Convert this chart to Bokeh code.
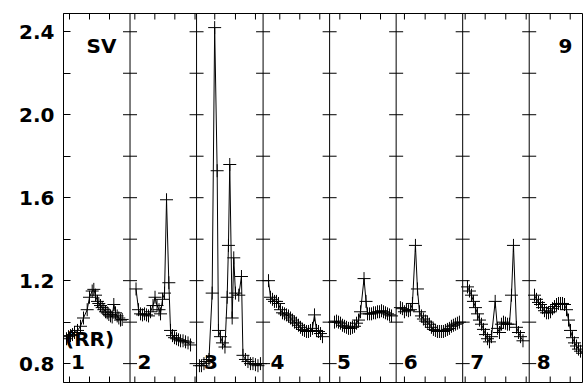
import math
from bokeh.plotting import figure
from bokeh.models import Range1d, FixedTicker, Span, Label, PrintfTickFormatter
from bokeh.embed import file_html
from bokeh.resources import INLINE

# ---------------- data ----------------
PANEL_W = 66.53          # width of one panel window (time units)
PANEL_LABELS = ["1", "2", "3", "4", "5", "6", "7", "8"]

P1_T = [3, 5, 7, 9, 11, 14, 17, 20, 23.7, 26, 28.7, 30.3, 32, 34, 35.3, 37, 38.7, 40.3, 42, 43.7,
        45.3, 47, 48.7, 50.3, 52, 53.7, 55.3, 57, 58.7]
P1_V = [0.92, 0.93, 0.935, 0.94, 0.95, 0.96, 0.98, 1.02, 1.06, 1.12, 1.15, 1.158, 1.13, 1.10, 1.09,
        1.08, 1.07, 1.06, 1.05, 1.045, 1.037, 1.03, 1.025, 1.085, 1.045, 1.03, 1.02, 1.01, 1.013]

P2_T = [6, 8.5, 10.5, 12.5, 14.5, 16.5, 18.5, 20.5, 23, 25, 27, 29, 30.5, 32.5, 34.5, 36.5, 38.8,
        40.5, 42.5, 44.5, 46.5, 48.5, 50.5, 53, 55.5, 58, 60.5]
P2_V = [1.16, 1.06, 1.04, 1.035, 1.04, 1.035, 1.03, 1.05, 1.08, 1.12, 1.08, 1.06, 1.04, 1.11, 1.14,
        1.59, 1.19, 0.96, 0.935, 0.925, 0.92, 0.915, 0.91, 0.91, 0.905, 0.90, 0.89]

P3_T = [2.9, 4.9, 7.4, 9.9, 12.4, 15.6, 18.1, 20.6, 21.9, 23.9, 25.9, 28.4, 30.6, 31.9, 33.2, 35.6,
        37.2, 38.9, 42.2, 44.9, 46.4, 48.9, 51.4, 53.9, 56.4, 58.9, 61.4, 63.9]
P3_V = [0.79, 0.79, 0.80, 0.81, 0.82, 1.14, 2.42, 1.73, 0.96, 0.93, 0.90, 0.88, 1.12, 1.37, 1.76,
        1.02, 1.31, 1.14, 1.13, 1.22, 0.84, 0.82, 0.81, 0.80, 0.80, 0.795, 0.79, 0.80]

P4_T = [5.4, 7.4, 9.4, 11.4, 13.4, 15.4, 17.4, 19.4, 21.4, 23.4, 25.4, 27.4, 29.4, 31.4, 33.4, 35.4,
        37.4, 39.4, 41.4, 43.4, 45.4, 47.4, 49.4, 51.4, 53.4, 55.4, 57.4, 59.4]
P4_V = [1.20, 1.12, 1.11, 1.10, 1.10, 1.09, 1.06, 1.045, 1.04, 1.035, 1.03, 1.02, 1.01, 1.00, 0.995,
        0.985, 0.975, 0.965, 0.96, 0.955, 0.955, 0.96, 0.97, 1.035, 0.96, 0.955, 0.945, 0.93]

P5_T = [4.9, 6.9, 8.9, 10.9, 12.9, 14.9, 16.9, 18.9, 20.9, 22.9, 24.9, 26.9, 28.9, 30.9, 34.4, 36.4,
        37.9, 39.9, 41.9, 43.9, 45.9, 47.9, 49.9, 51.9, 53.9, 55.9, 57.9, 59.9, 61.9]
P5_V = [1.00, 1.005, 1.00, 0.995, 0.985, 0.98, 0.975, 0.97, 0.97, 0.975, 0.98, 0.995, 1.01, 1.05,
        1.21, 1.10, 1.04, 1.04, 1.04, 1.045, 1.045, 1.05, 1.05, 1.055, 1.05, 1.045, 1.04, 1.035, 1.03]

P6_T = [4.3, 6.3, 8.3, 10.3, 12.3, 14.3, 16.3, 19.3, 21.3, 23.3, 25.3, 27.3, 29.3, 31.3, 33.3, 35.3,
        37.3, 39.3, 41.3, 43.3, 45.3, 47.3, 49.3, 51.3, 53.3, 55.3, 57.3, 59.3, 61.3, 63.3]
P6_V = [1.07, 1.065, 1.05, 1.06, 1.055, 1.06, 1.09, 1.37, 1.16, 1.05, 1.03, 1.015, 1.005, 1.0, 0.99,
        0.975, 0.965, 0.96, 0.955, 0.955, 0.955, 0.955, 0.96, 0.965, 0.97, 0.98, 0.985, 0.99, 0.995, 1.0]

P7_T = [4.8, 6.8, 8.8, 10.8, 12.8, 14.8, 16.8, 18.8, 20.8, 22.8, 24.8, 26.8, 28.8, 32.5, 34.8, 36.8,
        38.8, 40.8, 42.8, 44.8, 46.8, 48.8, 50.8, 53.8, 55.8, 57.8, 60.3]
P7_V = [1.17, 1.15, 1.13, 1.10, 1.07, 1.04, 1.01, 0.99, 0.965, 0.94, 0.92, 0.905, 0.93, 1.10, 0.97,
        0.95, 0.99, 1.0, 0.995, 0.99, 0.99, 1.13, 1.37, 0.975, 0.95, 0.93, 0.91]

P8_T = [5.3, 7.3, 9.3, 11.3, 13.3, 15.3, 17.3, 19.3, 21.3, 23.3, 25.3, 27.3, 29.3, 31.3, 33.3, 35.3,
        37.3, 39.3, 41.3, 43.3, 45.3, 47.3, 49.3, 51.3, 53.3]
P8_V = [1.13, 1.11, 1.095, 1.085, 1.07, 1.055, 1.045, 1.045, 1.05, 1.065, 1.075, 1.085, 1.09, 1.09,
        1.09, 1.085, 1.06, 1.01, 0.96, 0.925, 0.90, 0.885, 0.87, 0.86, 0.85]

PANEL_T = [P1_T, P2_T, P3_T, P4_T, P5_T, P6_T, P7_T, P8_T]
PANEL_V = [P1_V, P2_V, P3_V, P4_V, P5_V, P6_V, P7_V, P8_V]

# time ticks inside each panel window
TIME_TICKS = [[6, 26, 46], [4.8, 24.8, 44.8, 65], [18.2, 38.9, 58.9], [16.7, 36.7, 56.7],
              [10.2, 30.9, 50.9], [8.3, 29, 49], [2.5, 22.5, 43.1, 63.5], [21, 41]]

Y_MAJOR = [0.8, 1.2, 1.6, 2.0, 2.4]
Y_MINOR = [1.0, 1.4, 1.8, 2.2]

X_MAX = 520
Y_MIN, Y_MAX = 0.709, 2.488

# ---------------- figure ----------------
FONT = "DejaVu Sans"
FSIZE = "20px"
p = figure(width=583, height=391, x_range=Range1d(0, X_MAX), y_range=Range1d(Y_MIN, Y_MAX),
           output_backend="svg", toolbar_location=None, x_axis_location=None,
           min_border_left=63, min_border_right=0, min_border_top=13, min_border_bottom=9)
p.xgrid.visible = False
p.ygrid.visible = False
p.outline_line_color = "black"
p.background_fill_color = "white"
p.border_fill_color = "white"

# y axis
ya = p.yaxis[0]
ya.ticker = FixedTicker(ticks=Y_MAJOR, minor_ticks=Y_MINOR)
ya.formatter = PrintfTickFormatter(format="%.1f")
ya.major_tick_in = 7
ya.major_tick_out = 0
ya.minor_tick_in = 7
ya.minor_tick_out = 0
ya.major_tick_line_color = "black"
ya.minor_tick_line_color = "black"
ya.axis_line_color = "black"
ya.major_label_text_font = FONT
ya.major_label_text_font_style = "bold"
ya.major_label_text_font_size = FSIZE
ya.major_label_text_color = "black"
ya.major_label_standoff = 9

# time ticks on top and bottom edges (half of each vertical dash is clipped by the frame)
xt = [k * PANEL_W + t for k, offs in enumerate(TIME_TICKS) for t in offs]
p.scatter(x=xt + xt, y=[Y_MAX] * len(xt) + [Y_MIN] * len(xt), marker="dash", size=12,
          angle=math.pi / 2, line_color="black", line_width=1)

# panel dividers with their own y ticks
div_x = [k * PANEL_W for k in range(1, len(PANEL_LABELS))]
for dx in div_x:
    p.add_layout(Span(location=dx, dimension="height", line_color="black", line_width=1))
tick_vals = sorted(Y_MAJOR + Y_MINOR)
p.scatter(x=[dx for dx in div_x for _ in tick_vals], y=[v for _ in div_x for v in tick_vals],
          marker="dash", size=14, line_color="black", line_width=1)

# series
for k, (ts, vs) in enumerate(zip(PANEL_T, PANEL_V)):
    xs = [k * PANEL_W + t for t in ts]
    p.line(xs, vs, line_color="black", line_width=1)
    p.scatter(xs, vs, marker="cross", size=13, line_color="black", line_width=1)

# labels
for k, lab in enumerate(PANEL_LABELS):
    p.add_layout(Label(x=k * PANEL_W + 7.5, y=0.81, text=lab, text_font=FONT, text_font_style="bold",
                       text_font_size=FSIZE, text_color="black", text_baseline="alphabetic"))
p.add_layout(Label(x=1.5, y=0.921, text="(RR)", text_font=FONT, text_font_style="bold",
                   text_font_size=FSIZE, text_color="black", text_baseline="alphabetic"))
p.add_layout(Label(x=23, y=2.329, text="SV", text_font=FONT, text_font_style="bold",
                   text_font_size=FSIZE, text_color="black", text_baseline="alphabetic"))
p.add_layout(Label(x=495, y=2.329, text="9", text_font=FONT, text_font_style="bold",
                   text_font_size=FSIZE, text_color="black", text_baseline="alphabetic"))

open("out.html", "w").write(file_html(p, INLINE))
